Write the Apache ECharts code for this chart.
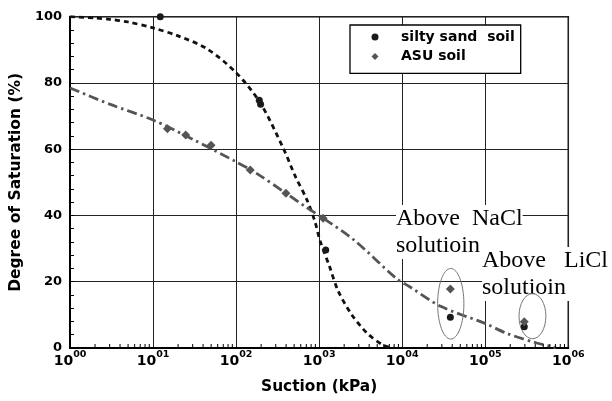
<!DOCTYPE html>
<html>
<head>
<meta charset="utf-8">
<script src="https://cdn.jsdelivr.net/npm/echarts@6/dist/echarts.min.js"></script>
<style>
html,body{margin:0;padding:0;background:#fff;}
#chart{width:612px;height:401px;}
</style>
</head>
<body>
<div id="chart"></div>
<script>
// ---- data ----
const xTickExponents = [0, 1, 2, 3, 4, 5, 6];
const yTicks = [0, 20, 40, 60, 80, 100];

// measured points (suction kPa, degree of saturation %)
const siltySandPoints = [[12.2, 100], [190, 74.8], [197, 73.6], [1200, 29.6], [38000, 9.3], [295000, 6.4]];
const asuPoints = [[14.9, 66.2], [24.7, 64.3], [49.9, 61.2], [148, 53.7], [398, 46.7], [1115, 39.2], [38000, 17.8], [295000, 7.9]];

// fitted curves
const siltySandCurve = [[1, 100], [2, 99.6], [3, 99.2], [5, 98.4], [10, 96.6], [20, 94.2], [44, 90.4], [100, 83.1],
  [195, 74], [376, 59.9], [516, 51.8], [710, 44.8], [889, 38.2], [1019, 32.6], [1337, 24.5], [1675, 17.5],
  [2415, 10.4], [3800, 4.4], [5970, 0.8], [7900, 0]];
const asuCurve = [[1, 78.5], [3, 73.6], [10, 68.8], [30, 63], [100, 56.2], [174, 52.8], [394, 46.8], [678, 42.7],
  [1115, 39.2], [2630, 32.6], [8500, 21], [12300, 18.5], [29500, 12.5], [100000, 7.4], [182000, 4.4],
  [417000, 1.5], [660000, 0.3], [710000, 0]];

// annotation ellipses: data-space bounding boxes [xLow, xHigh, yLow, yHigh]
const saltEllipses = [[26700, 55300, 2.7, 24.0], [255000, 537000, 2.8, 16.4]];
const annotationTexts = ['Above  NaCl\nsolutioin', 'Above   LiCl\nsolutioin'];

const seriesNames = ['silty sand  soil', 'ASU soil'];

// minor tick values for log axis (2..9 within each decade)
const minorTickValues = [];
for (let d = 0; d < 6; d++) for (let k = 2; k <= 9; k++) minorTickValues.push([k * Math.pow(10, d), 0]);

const BOLD = 'DejaVu Sans';
const chart = echarts.init(document.getElementById('chart'));

const option = {
  animation: false,
  backgroundColor: '#fff',
  grid: { left: 61.7, right: 43.7, top: 16.7, bottom: 53, show: true, borderColor: '#000', borderWidth: 1.5, backgroundColor: 'transparent' },
  legend: {
    data: [{ name: seriesNames[0], icon: 'circle' }, { name: seriesNames[1], icon: 'diamond' }],
    orient: 'vertical',
    left: 350, top: 25,
    itemWidth: 7, itemHeight: 7, itemGap: 3.4,
    padding: [4, 6, 9, 21.5],
    borderColor: '#000', borderWidth: 1.3, backgroundColor: '#fff',
    textStyle: { fontFamily: BOLD, fontWeight: 'bold', fontSize: 14, color: '#000', lineHeight: 16, padding: [0, 0, 0, 17.5] }
  },
  xAxis: {
    type: 'log', logBase: 10, min: 1, max: 1e6, splitNumber: 6,
    name: 'Suction (kPa)', nameLocation: 'middle', nameGap: 31,
    nameTextStyle: { fontFamily: BOLD, fontWeight: 'bold', fontSize: 15.4, color: '#000' },
    axisLine: { show: true, onZero: false, lineStyle: { color: '#000', width: 2 } },
    axisTick: { show: false },
    splitLine: { show: true, lineStyle: { color: '#222', width: 1 } },
    axisLabel: {
      margin: 4,
      formatter: function (v) {
        const e = Math.round(Math.log10(v));
        return '{b|10}{s|' + (e < 10 ? '0' + e : '' + e) + '}';
      },
      rich: {
        b: { fontFamily: BOLD, fontWeight: 'bold', fontSize: 14, lineHeight: 16, color: '#000', verticalAlign: 'bottom' },
        s: { fontFamily: BOLD, fontWeight: 'bold', fontSize: 9.5, lineHeight: 10, color: '#000', padding: [0, 0, 8, 0], verticalAlign: 'bottom' }
      }
    }
  },
  yAxis: {
    type: 'value', min: yTicks[0], max: yTicks[yTicks.length - 1], interval: 20,
    name: 'Degree of Saturation (%)', nameLocation: 'middle', nameGap: 31,
    nameTextStyle: { fontFamily: BOLD, fontWeight: 'bold', fontSize: 15.5, color: '#000' },
    axisLine: { show: true, lineStyle: { color: '#000', width: 2 } },
    axisTick: { show: true, inside: true, length: 4, lineStyle: { color: '#000' } },
    minorTick: { show: true, splitNumber: 5, length: 4, lineStyle: { color: '#000', width: 1 } },
    splitLine: { show: true, lineStyle: { color: '#222', width: 1 } },
    axisLabel: { fontFamily: BOLD, fontWeight: 'bold', fontSize: 13, color: '#000', margin: 8 }
  },
  graphic: [
    { type: 'text', left: 396, top: 205, z: 1,
      style: { text: annotationTexts[0], font: '24px "Liberation Serif"', fill: '#000', lineHeight: 27, backgroundColor: '#fff' } },
    { type: 'text', left: 482, top: 247, z: 1,
      style: { text: annotationTexts[1], font: '24px "Liberation Serif"', fill: '#000', lineHeight: 27, backgroundColor: '#fff' } }
  ],
  series: [
    {
      type: 'custom', name: 'minorX', silent: true, clip: false, z: 3,
      data: minorTickValues,
      renderItem: function (params, api) {
        const p = api.coord([api.value(0), 0]);
        return { type: 'line', shape: { x1: p[0], y1: p[1], x2: p[0], y2: p[1] - 4 }, style: { stroke: '#000', lineWidth: 1 } };
      }
    },
    {
      type: 'line', name: 'siltyCurve', data: siltySandCurve, showSymbol: false, smooth: 0.3, silent: true,
      lineStyle: { color: '#111', width: 2.8, type: [5, 4] }, z: 2
    },
    {
      type: 'line', name: 'asuCurve', data: asuCurve, showSymbol: false, smooth: 0.3, silent: true,
      lineStyle: { color: '#555', width: 2.8, type: [10, 4, 2.5, 4] }, z: 2
    },
    {
      type: 'custom', name: 'ellipses', silent: true, z: 4,
      data: saltEllipses,
      renderItem: function (params, api) {
        const a = api.coord([api.value(0), api.value(3)]);
        const b = api.coord([api.value(1), api.value(2)]);
        return {
          type: 'ellipse',
          shape: { cx: (a[0] + b[0]) / 2, cy: (a[1] + b[1]) / 2, rx: Math.abs(b[0] - a[0]) / 2, ry: Math.abs(b[1] - a[1]) / 2 },
          style: { fill: 'none', stroke: '#777', lineWidth: 1 }
        };
      }
    },
    {
      type: 'scatter', name: seriesNames[0], data: siltySandPoints, symbol: 'circle', symbolSize: 7, clip: false, z: 5,
      itemStyle: { color: '#1a1a1a', opacity: 1 }
    },
    {
      type: 'scatter', name: seriesNames[1], data: asuPoints, symbol: 'diamond', symbolSize: 9, clip: false, z: 5,
      itemStyle: { color: '#555', opacity: 1 }
    }
  ]
};
chart.setOption(option);
</script>
</body>
</html>
